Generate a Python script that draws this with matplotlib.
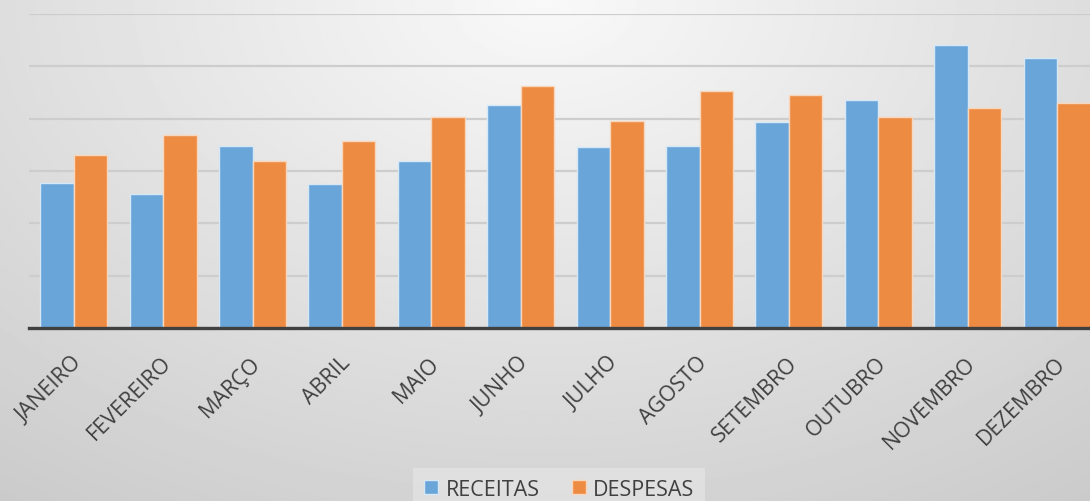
import numpy as np
import matplotlib.pyplot as plt
import matplotlib.transforms as mtransforms

# meses e valores (em unidades de linha de grade)
meses = ['JANEIRO', 'FEVEREIRO', 'MARÇO', 'ABRIL', 'MAIO', 'JUNHO',
         'JULHO', 'AGOSTO', 'SETEMBRO', 'OUTUBRO', 'NOVEMBRO', 'DEZEMBRO']
receitas = [2.77, 2.56, 3.48, 2.75, 3.19, 4.27, 3.46, 3.48, 3.94, 4.35, 5.40, 5.15]
despesas = [3.31, 3.69, 3.19, 3.58, 4.04, 4.63, 3.96, 4.52, 4.46, 4.04, 4.21, 4.29]

plt.rcParams['font.family'] = ['Open Sans', 'DejaVu Sans']

fig = plt.figure(figsize=(10.9, 5.02), dpi=100)

# fundo com degradê radial
bg = fig.add_axes([0, 0, 1, 1], zorder=-10)
yy, xx = np.mgrid[0:1:300j, 0:1:600j]
d = np.sqrt(((xx - 0.5) / 0.75) ** 2 + (yy / 1.1) ** 2)
grad = 0.975 - 0.16 * np.clip(d, 0, 1.2)
bg.imshow(grad, cmap='gray', vmin=0, vmax=1, aspect='auto', extent=[0, 1, 1, 0])
bg.axis('off')

W, H = 1090, 502
left = 29 / W
bottom = (H - 329) / H
width = (12 * 89.4) / W
height = (329 - 15) / H
ax = fig.add_axes([left, bottom, width, height])
ax.patch.set_alpha(0)

x = np.arange(len(meses))
w = 0.375
ax.bar(x - w / 2, receitas, w, color='#6aa5d9', edgecolor='#d6e8f6',
       linewidth=1.0, label='RECEITAS', zorder=3)
ax.bar(x + w / 2, despesas, w, color='#ee8b43', edgecolor='#f8d6bb',
       linewidth=1.0, label='DESPESAS', zorder=3)

ax.set_xlim(-0.5, 11.5)
ax.set_ylim(0, 6)
ax.set_yticks(np.arange(0, 7, 1))
ax.yaxis.grid(True, color='#cdcdcd', linewidth=1.6, zorder=0)
ax.tick_params(axis='y', left=False, labelleft=False)
ax.tick_params(axis='x', length=0, pad=6)
for s in ['top', 'right', 'left']:
    ax.spines[s].set_visible(False)
ax.spines['bottom'].set_color('#404040')
ax.spines['bottom'].set_linewidth(2.4)
ax.spines['bottom'].set_zorder(4)

ax.set_xticks(x)
ax.set_xticklabels(meses, rotation=45, ha='right', va='center',
                   rotation_mode='anchor', fontsize=15.5, color='#404040')
offset = mtransforms.ScaledTranslation(0.05, -0.23, fig.dpi_scale_trans)
for lab in ax.get_xticklabels():
    lab.set_transform(lab.get_transform() + offset)

leg = fig.legend(loc='lower center', bbox_to_anchor=(0.513, -0.04), ncol=2,
                 frameon=True, fontsize=15.5, handlelength=0.65, handleheight=0.65,
                 handletextpad=0.35, columnspacing=1.5, borderpad=0.5)
leg.get_frame().set_facecolor('#e3e3e3')
leg.get_frame().set_edgecolor('none')
leg.get_frame().set_boxstyle('square', pad=0)
for t in leg.get_texts():
    t.set_color('#404040')

fig.savefig('out.png', dpi=100)
